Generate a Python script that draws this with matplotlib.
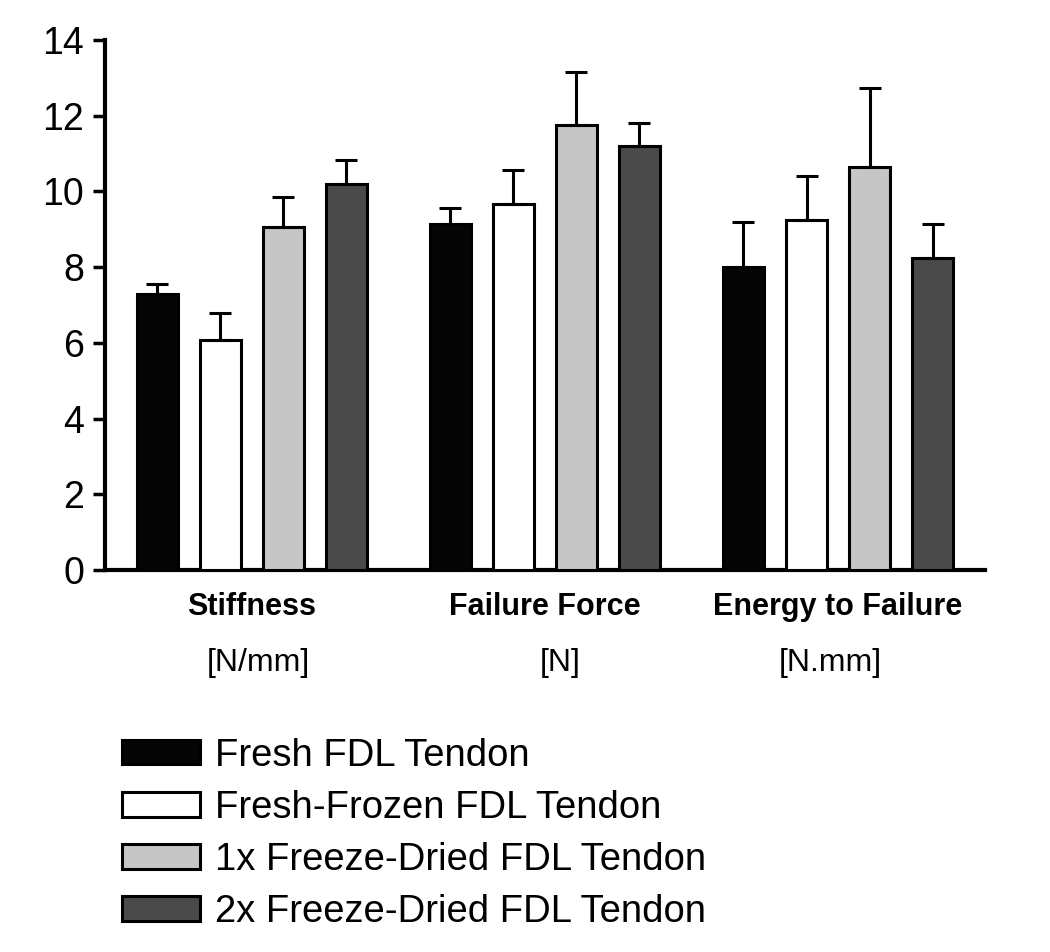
import numpy as np
import matplotlib.pyplot as plt

plt.rcParams['font.family'] = ['Liberation Sans', 'DejaVu Sans']

# valeurs (moyenne et écart type, barre du haut seulement)
categories = ['Stiffness', 'Failure Force', 'Energy to Failure']
unites = ['[N/mm]', '[N]', '[N.mm]']
groupes = ['Fresh FDL Tendon', 'Fresh-Frozen FDL Tendon',
           '1x Freeze-Dried FDL Tendon', '2x Freeze-Dried FDL Tendon']

fresh = [7.3, 9.15, 8.0]
fresh_err = [0.25, 0.42, 1.2]
frozen = [6.07, 9.67, 9.24]
frozen_err = [0.72, 0.9, 1.16]
fd1 = [9.06, 11.75, 10.64]
fd1_err = [0.8, 1.4, 2.1]
fd2 = [10.2, 11.2, 8.24]
fd2_err = [0.64, 0.6, 0.9]

couleurs = ['#050505', '#ffffff', '#c6c6c6', '#4a4a4a']

valeurs = [fresh, frozen, fd1, fd2]
erreurs = [fresh_err, frozen_err, fd1_err, fd2_err]

fig = plt.figure(figsize=(10.5, 9.52), dpi=100)
ax = fig.add_axes([0.1, 0.401, 0.838, 0.557])

ecart_groupe = 4.65
centres = np.arange(len(categories)) * ecart_groupe
largeur = 0.65

handles = []
for i in range(len(groupes)):
    x = centres + i
    err = np.array(erreurs[i])
    b = ax.bar(x, valeurs[i], width=largeur, color=couleurs[i], edgecolor='black',
               linewidth=2.2, yerr=[np.zeros_like(err), err], capsize=8,
               error_kw=dict(elinewidth=2.2, capthick=2.2, ecolor='black'),
               label=groupes[i], zorder=3)
    handles.append(b)

ax.set_xlim(-0.83, 13.13)
ax.set_ylim(0, 14)
ax.set_yticks(range(0, 15, 2))
ax.set_xticks([])
ax.spines['top'].set_visible(False)
ax.spines['right'].set_visible(False)
ax.spines['left'].set_linewidth(3)
ax.spines['bottom'].set_linewidth(3)
ax.tick_params(axis='y', direction='out', length=9, width=2.5, labelsize=27, pad=6)

trans = ax.get_xaxis_transform()
decalage_unite = [0.1, 0.24, -0.13]
for k in range(len(categories)):
    ax.text(centres[k] + 1.5, -0.07, categories[k], transform=trans, ha='center',
            va='center', fontsize=22, fontweight='bold')
    ax.text(centres[k] + 1.5 + decalage_unite[k], -0.175, unites[k], transform=trans,
            ha='center', va='center', fontsize=23)

fig.legend(handles=handles, labels=groupes, loc='upper left',
           bbox_to_anchor=(0.116, 0.225), frameon=False, fontsize=27.5,
           handlelength=2.05, handleheight=0.6, labelspacing=0.42,
           handletextpad=0.4, borderpad=0, borderaxespad=0)

fig.savefig('out.png', dpi=100)
